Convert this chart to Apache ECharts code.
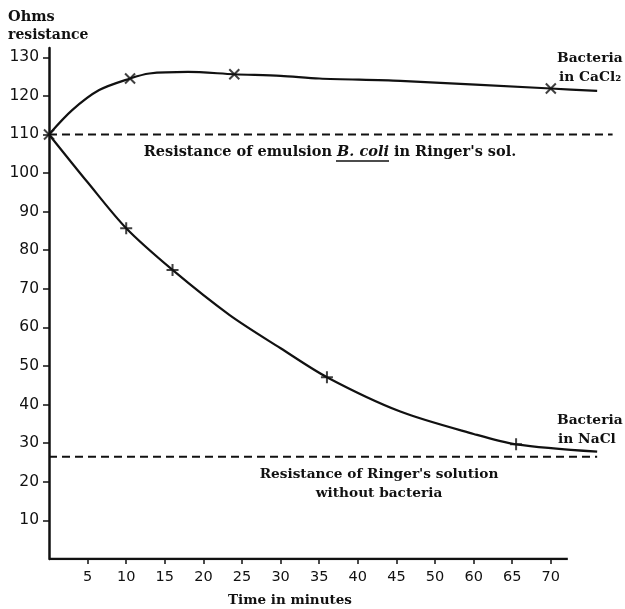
<!DOCTYPE html>
<html>
<head>
<meta charset="utf-8">
<script src="https://cdn.jsdelivr.net/npm/echarts@6/dist/echarts.min.js"></script>
<style>
html,body{margin:0;padding:0;background:#fff;}
#chart{width:625px;height:609px;}
</style>
</head>
<body>
<div id="chart"></div>
<script>
// ---- Data (times in minutes as labelled on the original axis) ----
const xTickLabels = ['5','10','15','20','25','30','35','40','45','50','60','65','70'];
const yTickValues = [10,20,30,40,50,60,70,80,90,100,110,120,130];

// Drawn curve, bacteria in CaCl2
const caclCurveMin  = [0, 3, 6.5, 10.5, 13, 18, 24, 30, 35, 45.5, 70, 76];
const caclCurveOhms = [110, 116.3, 121.5, 124.5, 125.8, 126.2, 125.6, 125.2, 124.5, 123.9, 121.9, 121.3];
// Measured points (crosses), bacteria in CaCl2
const caclMarkMin  = [0, 10.5, 24, 70];
const caclMarkOhms = [110, 124.5, 125.6, 121.9];

// Drawn curve, bacteria in NaCl
const naclCurveMin  = [0, 5, 10, 16, 23.4, 30, 36, 45.5, 60, 65.5, 76];
const naclCurveOhms = [110, 97.6, 85.7, 74.9, 63.2, 54.6, 47.1, 38.2, 32.4, 29.7, 27.8];
// Measured points (crosses), bacteria in NaCl
const naclMarkMin  = [10, 16, 36, 65.5];
const naclMarkOhms = [85.7, 74.9, 47.1, 29.7];

// Reference (dashed) levels
const emulsionOhms = 110;
const emulsionSpanMin = [0, 78];
const ringerOhms = 26.5;
const ringerSpanMin = [0, 76];
// Drawn extent of the time axis line (minutes, axis scale)
const axisLineSpanMin = [0, 72.2];

// The original axis skips "55": its evenly spaced ticks read 50, 60, 65, 70.
function toAxis(t) {
  if (t <= 50) return t;
  if (t <= 60) return 50 + (t - 50) / 2;
  return t - 5;
}
const xTickPos = xTickLabels.map(l => toAxis(Number(l)));
function pairs(xs, ys) { return xs.map((x, i) => [toAxis(x), ys[i]]); }

const INK = '#111';
const crossPath = 'path://M0,0L10,10M10,0L0,10';
const plusPath = 'path://M5,0L5,10M0,5L10,5';
const SERIF = '"DejaVu Serif"';

const chart = echarts.init(document.getElementById('chart'));
const option = {
  animation: false,
  backgroundColor: '#fff',
  grid: { left: 49, top: 48, right: 12.4, bottom: 50, containLabel: false },
  xAxis: {
    type: 'value', min: 0, max: 73,
    splitLine: { show: false },
    axisLine: { show: false },
    axisTick: { show: true, customValues: xTickPos, length: 5, lineStyle: { color: INK, width: 1.5 } },
    axisLabel: {
      customValues: xTickPos, margin: 11, color: INK,
      fontFamily: 'DejaVu Sans', fontSize: 14.5,
      formatter: v => xTickLabels[xTickPos.indexOf(v)] || ''
    }
  },
  yAxis: {
    type: 'value', min: 0, max: 132.4,
    splitLine: { show: false },
    axisLine: { show: true, lineStyle: { color: INK, width: 2.5 } },
    axisTick: { show: true, customValues: yTickValues, length: 6, lineStyle: { color: INK, width: 1.5 } },
    axisLabel: {
      customValues: yTickValues, margin: 10, color: INK,
      fontFamily: 'DejaVu Sans', fontSize: 15.5
    }
  },
  series: [
    { type: 'line', showSymbol: false, silent: true,
      data: axisLineSpanMin.map(t => [toAxis(t), 0]),
      lineStyle: { color: INK, width: 2.5 } },
    { type: 'line', showSymbol: false, silent: true,
      data: emulsionSpanMin.map(t => [toAxis(t), emulsionOhms]),
      lineStyle: { color: INK, width: 2, type: [8, 5] } },
    { type: 'line', showSymbol: false, silent: true,
      data: ringerSpanMin.map(t => [toAxis(t), ringerOhms]),
      lineStyle: { color: INK, width: 2, type: [8, 5] } },
    { type: 'line', showSymbol: false, smooth: 0.3,
      data: pairs(caclCurveMin, caclCurveOhms),
      lineStyle: { color: INK, width: 2.2 } },
    { type: 'line', showSymbol: false, smooth: 0.3,
      data: pairs(naclCurveMin, naclCurveOhms),
      lineStyle: { color: INK, width: 2.2 } },
    { type: 'scatter', clip: false, symbol: crossPath, symbolSize: 10,
      data: pairs(caclMarkMin, caclMarkOhms),
      itemStyle: { color: 'rgba(0,0,0,0)', borderColor: INK, borderWidth: 2 } },
    { type: 'scatter', clip: false, symbol: plusPath, symbolSize: 12,
      data: pairs(naclMarkMin, naclMarkOhms),
      itemStyle: { color: 'rgba(0,0,0,0)', borderColor: INK, borderWidth: 2 } }
  ],
  graphic: [
    { type: 'text', left: 8, top: 10, style: { text: 'Ohms', font: 'bold 14.5px ' + SERIF, fill: INK } },
    { type: 'text', left: 8, top: 28, style: { text: 'resistance', font: 'bold 14px ' + SERIF, fill: INK } },
    { type: 'text', x: 330, y: 152, style: {
        text: "{n|Resistance of emulsion }{i|B. coli}{n| in Ringer's sol.}",
        align: 'center', verticalAlign: 'middle',
        rich: {
          n: { font: 'bold 14.5px ' + SERIF, fill: INK },
          i: { font: 'italic bold 14.5px ' + SERIF, fill: INK }
        } } },
    { type: 'line', shape: { x1: 336, y1: 161, x2: 389, y2: 161 }, style: { stroke: INK, lineWidth: 1.3 } },
    { type: 'text', x: 379, y: 474, style: { text: "Resistance of Ringer's solution", align: 'center', verticalAlign: 'middle', font: 'bold 13.7px ' + SERIF, fill: INK } },
    { type: 'text', x: 379, y: 493, style: { text: 'without bacteria', align: 'center', verticalAlign: 'middle', font: 'bold 13.7px ' + SERIF, fill: INK } },
    { type: 'text', x: 557, y: 58, style: { text: 'Bacteria', verticalAlign: 'middle', font: 'bold 13.8px ' + SERIF, fill: INK } },
    { type: 'text', x: 559, y: 77, style: { text: 'in CaCl₂', verticalAlign: 'middle', font: 'bold 13.8px ' + SERIF, fill: INK } },
    { type: 'text', x: 557, y: 420, style: { text: 'Bacteria', verticalAlign: 'middle', font: 'bold 13.8px ' + SERIF, fill: INK } },
    { type: 'text', x: 558, y: 439, style: { text: 'in NaCl', verticalAlign: 'middle', font: 'bold 13.8px ' + SERIF, fill: INK } },
    { type: 'text', x: 290, y: 600, style: { text: 'Time in minutes', align: 'center', verticalAlign: 'middle', font: 'bold 13.5px ' + SERIF, fill: INK } }
  ]
};
chart.setOption(option);
</script>
</body>
</html>
